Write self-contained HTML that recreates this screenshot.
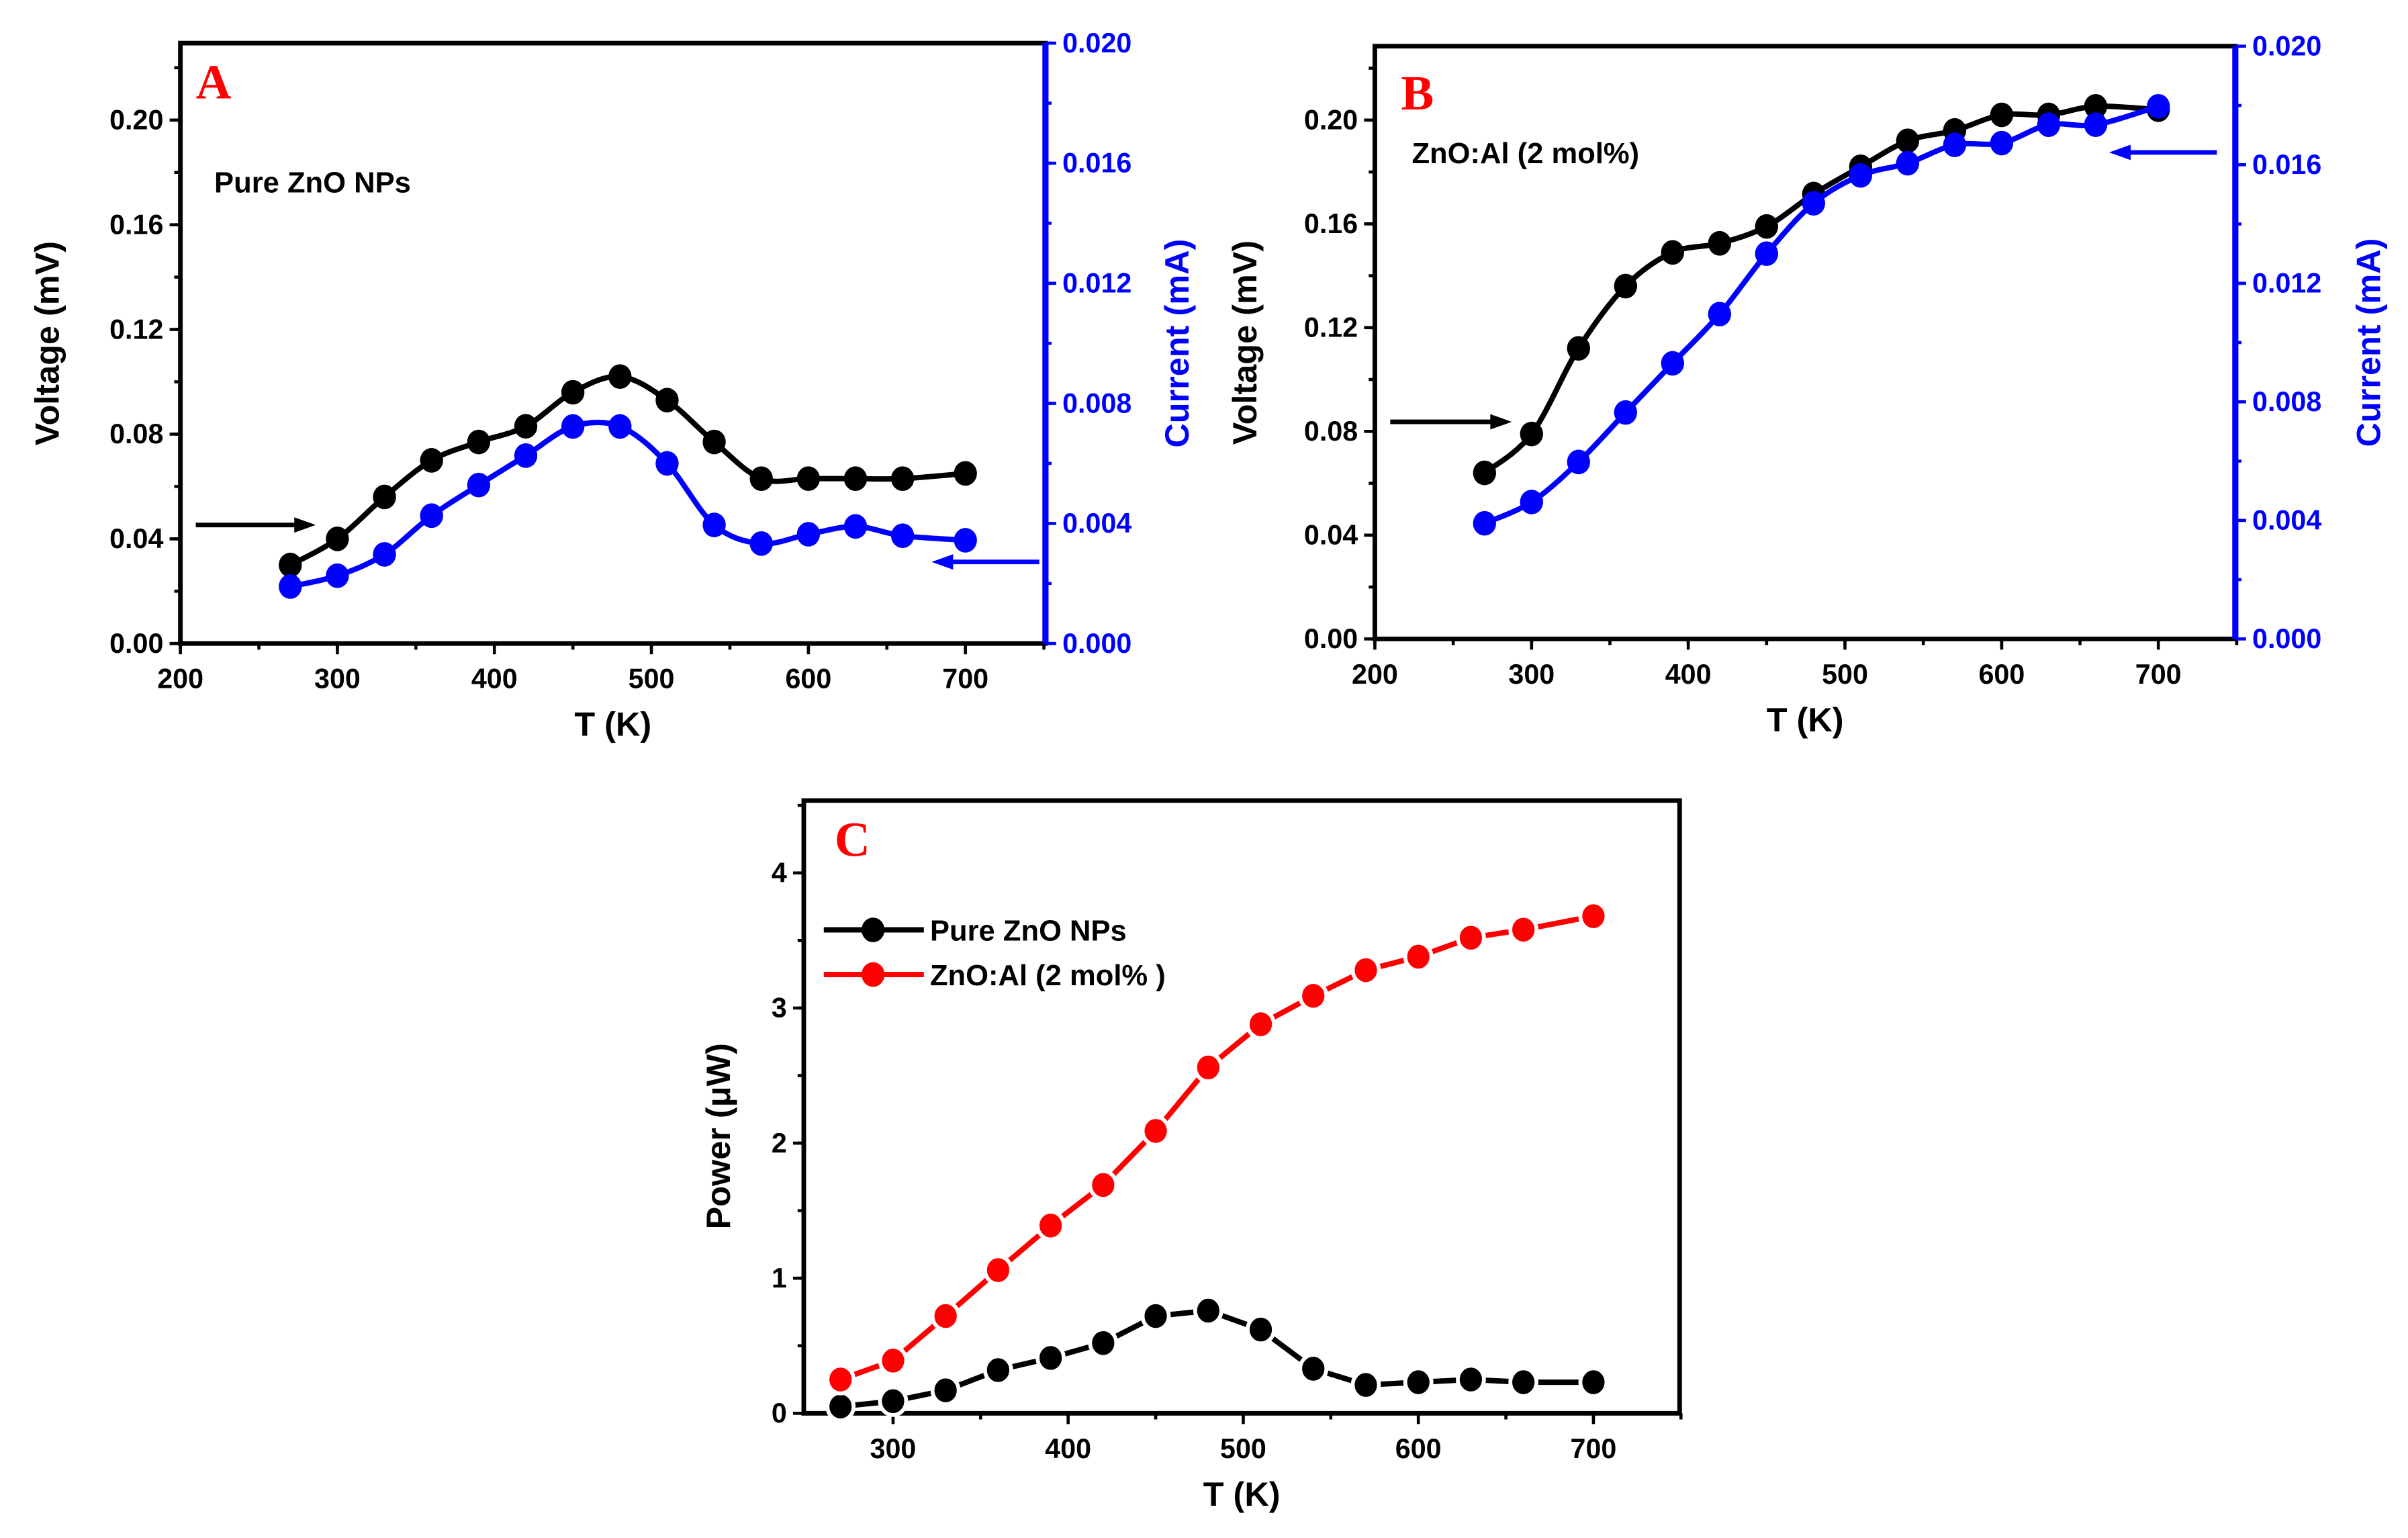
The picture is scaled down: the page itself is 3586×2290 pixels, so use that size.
<!DOCTYPE html>
<html><head><meta charset="utf-8"><style>
html,body{margin:0;padding:0;background:#fff;}
svg{display:block;}
text{font-family:"Liberation Sans",Arial,sans-serif;font-weight:bold;}
</style></head><body>
<svg id="fig" width="3586" height="2290" viewBox="0 0 1564 999" xmlns="http://www.w3.org/2000/svg"></svg>
<script>
const temps = [270,300,330,360,390,420,450,480,510,540,570,600,630,660,700];
const voltA = [0.030,0.040,0.056,0.070,0.077,0.083,0.096,0.102,0.093,0.077,0.063,0.063,0.063,0.063,0.065];
const currA = [0.0019,0.00226,0.00297,0.00426,0.00528,0.00626,0.00723,0.00723,0.0060,0.00395,0.00333,0.00364,0.0039,0.00359,0.00344];
const voltB = [0.064,0.079,0.112,0.136,0.149,0.1525,0.159,0.1715,0.182,0.192,0.196,0.202,0.202,0.2053,0.204];
const currB = [0.0039,0.00462,0.00597,0.00764,0.0093,0.01096,0.013,0.0147,0.01564,0.01605,0.01667,0.01673,0.01735,0.01735,0.01797];
const powPure = [0.05,0.09,0.17,0.32,0.41,0.52,0.72,0.76,0.62,0.33,0.21,0.23,0.25,0.23,0.23];
const powAl = [0.25,0.39,0.72,1.06,1.39,1.69,2.09,2.56,2.88,3.09,3.28,3.38,3.52,3.58,3.68];
const xTicksAB = [200,300,400,500,600,700];
const yTicksV = [0.00,0.04,0.08,0.12,0.16,0.20];
const yTicksI = [0.000,0.004,0.008,0.012,0.016,0.020];
const xTicksC = [300,400,500,600,700];
const yTicksP = [0,1,2,3,4];

const svg = document.getElementById('fig');
const NS = 'http://www.w3.org/2000/svg';
function mk(tag, attrs, parent){
  const e = document.createElementNS(NS, tag);
  for (const k in attrs) e.setAttribute(k, attrs[k]);
  (parent||svg).appendChild(e);
  return e;
}
function txt(s, x, y, size, fill, anchor, parent, rot){
  const t = mk('text', {x:x, y:y, 'font-size':size, fill:fill||'#000', 'text-anchor':anchor||'middle'}, parent);
  if (rot) t.setAttribute('transform', 'rotate(-90 '+x+' '+y+')');
  t.textContent = s;
  return t;
}
function lin(d0,d1,p0,p1){ return v => p0 + (v-d0)*(p1-p0)/(d1-d0); }
function smooth(pts){
  let d = 'M'+pts[0][0]+','+pts[0][1];
  for (let i=0;i<pts.length-1;i++){
    const p0=pts[Math.max(0,i-1)], p1=pts[i], p2=pts[i+1], p3=pts[Math.min(pts.length-1,i+2)];
    const c1x=p1[0]+(p2[0]-p0[0])/6, c1y=p1[1]+(p2[1]-p0[1])/6;
    const c2x=p2[0]-(p3[0]-p1[0])/6, c2y=p2[1]-(p3[1]-p1[1])/6;
    d += ' C'+c1x+','+c1y+' '+c2x+','+c2y+' '+p2[0]+','+p2[1];
  }
  return d;
}
function straight(pts){ return 'M'+pts.map(p=>p[0]+','+p[1]).join(' L'); }
function series(g, xs, ys, sx, sy, color, name, isStraight){
  const pts = xs.map((x,i)=>[sx(x), sy(ys[i])]);
  const p = mk('path', {d:isStraight?straight(pts):smooth(pts), fill:'none', stroke:color, 'stroke-width':3.5}, g);
  
  
  pts.forEach((pt,i)=>{
    const c = mk('ellipse', {cx:pt[0], cy:pt[1], rx:7.5, ry:8, fill:color}, g);
    if (isStraight){ c.setAttribute('stroke','#fff'); c.setAttribute('stroke-width','2.5'); c.setAttribute('rx','8.5'); c.setAttribute('ry','9'); }
    
    
  });
}
function arrow(g, x1, x2, y, color, name){
  const dir = x2 > x1 ? 1 : -1;
  const l = mk('line', {x1:x1, y1:y, x2:x2-dir*10, y2:y, stroke:color, 'stroke-width':3}, g);
  const h = mk('polygon', {points:(x2)+','+y+' '+(x2-dir*14)+','+(y-5)+' '+(x2-dir*14)+','+(y+5), fill:color}, g);
  
  
  
  
}
function xAxis(g, sx, y, ticks, minorStep, lo, hi, fmt){
  ticks.forEach(v=>{
    mk('line',{x1:sx(v),y1:y,x2:sx(v),y2:y+7,stroke:'#000','stroke-width':2},g);
    txt(fmt(v), sx(v), y+29, 18, '#000', 'middle', g);
  });
  for (let v=lo; v<=hi+1e-9; v+=minorStep) mk('line',{x1:sx(v),y1:y,x2:sx(v),y2:y+4,stroke:'#000','stroke-width':2},g);
}
function yAxis(g, sy, x, ticks, minorStep, lo, hi, fmt, side, color){
  const s = side==='left' ? -1 : 1;
  ticks.forEach(v=>{
    mk('line',{x1:x,y1:sy(v),x2:x+s*7,y2:sy(v),stroke:color,'stroke-width':2},g);
    txt(fmt(v), x+s*11, sy(v)+6, 18, color, side==='left'?'end':'start', g);
  });
  for (let v=lo; v<=hi+1e-9; v+=minorStep) mk('line',{x1:x,y1:sy(v),x2:x+s*4,y2:sy(v),stroke:color,'stroke-width':2},g);
}

function panelVI(cfg){
  const g = mk('g', {});
  
  
  const sx = lin(200,700,cfg.L,cfg.x700);
  const sy = lin(0,0.20,cfg.B,cfg.y020);
  const si = lin(0,0.020,cfg.B,cfg.T);
  mk('rect',{x:cfg.L,y:cfg.T,width:cfg.R-cfg.L,height:cfg.B-cfg.T,fill:'none',stroke:'#000','stroke-width':3},g);
  mk('line',{x1:cfg.R,y1:cfg.T,x2:cfg.R,y2:cfg.B,stroke:'#0000ff','stroke-width':4},g);
  xAxis(g, sx, cfg.B, xTicksAB, 50, 200, 750, v=>String(v));
  yAxis(g, sy, cfg.L, yTicksV, 0.02, 0, 0.22, v=>v.toFixed(2), 'left', '#000');
  yAxis(g, si, cfg.R, yTicksI, 0.002, 0, 0.020, v=>v.toFixed(3), 'right', '#0000ff');
  series(g, temps, cfg.volt, sx, sy, '#000', cfg.name+'-voltage', false);
  series(g, temps, cfg.curr, sx, si, '#0000ff', cfg.name+'-current', false);
  const cx = (cfg.L+cfg.R)/2;
  txt('T (K)', cx, cfg.B+60, 22, '#000', 'middle', g);
  txt('Voltage (mV)', cfg.vx, (cfg.T+cfg.B)/2, 22, '#000', 'middle', g, true);
  txt('Current (mA)', cfg.ix, (cfg.T+cfg.B)/2, 22, '#0000ff', 'middle', g, true);
  const lt = txt(cfg.letter, cfg.lx, cfg.ly, 32, '#ff0000', 'start', g);
  lt.setAttribute('style','font-family:"Liberation Serif",serif;font-weight:bold');
  txt(cfg.label, cfg.tx, cfg.ty, 19, '#000', 'start', g);
  return g;
}
const gA = panelVI({name:'panel-a', L:117, R:679, T:28, B:418, x700:627, y020:78, volt:voltA, curr:currA,
  vx:38, ix:772, letter:'A', lx:127, ly:64, label:'Pure ZnO NPs', tx:139, ty:125});
arrow(gA, 127, 205, 341, '#000', 'panel-a-voltage-arrow');
arrow(gA, 675, 605, 365, '#0000ff', 'panel-a-current-arrow');

const gB = panelVI({name:'panel-b', L:893, R:1452, T:30, B:415, x700:1402, y020:78, volt:voltB, curr:currB,
  vx:816, ix:1546, letter:'B', lx:910, ly:71, label:'ZnO:Al (2 mol%)', tx:917, ty:106});
arrow(gB, 903, 982, 274, '#000', 'panel-b-voltage-arrow');
arrow(gB, 1440, 1370, 99, '#0000ff', 'panel-b-current-arrow');

(function(){
  const g = mk('g', {});
  
  
  const L=522,R=1091,T=520,B=918;
  const sx = lin(300,700,580,1035);
  const sy = lin(0,4,B,567);
  mk('rect',{x:L,y:T,width:R-L,height:B-T,fill:'none',stroke:'#000','stroke-width':3},g);
  xAxis(g, sx, B, xTicksC, 50, 300, 750, v=>String(v));
  yAxis(g, sy, L, yTicksP, 0.5, 0, 4.5, v=>String(v), 'left', '#000');
  series(g, temps, powPure, sx, sy, '#000', 'power-pure', true);
  series(g, temps, powAl, sx, sy, '#ff0000', 'power-al', true);
  txt('T (K)', (L+R)/2, 978, 22, '#000', 'middle', g);
  txt('Power (\u03bcW)', 474, 738, 22, '#000', 'middle', g, true);
  const lt = txt('C', 542, 556, 32, '#ff0000', 'start', g);
  lt.setAttribute('style','font-family:"Liberation Serif",serif;font-weight:bold');
  const leg = [['Pure ZnO NPs','#000',604],['ZnO:Al (2 mol% )','#ff0000',633]];
  leg.forEach((it,i)=>{
    const l = mk('line',{x1:535,y1:it[2],x2:600,y2:it[2],stroke:it[1],'stroke-width':3.5},g);
    
    
    mk('ellipse',{cx:567,cy:it[2],rx:7.5,ry:8,fill:it[1]},g);
    const t = txt(it[0], 604, it[2]+7, 19, '#000', 'start', g);
    
    
  });
})();
</script>
</body></html>
